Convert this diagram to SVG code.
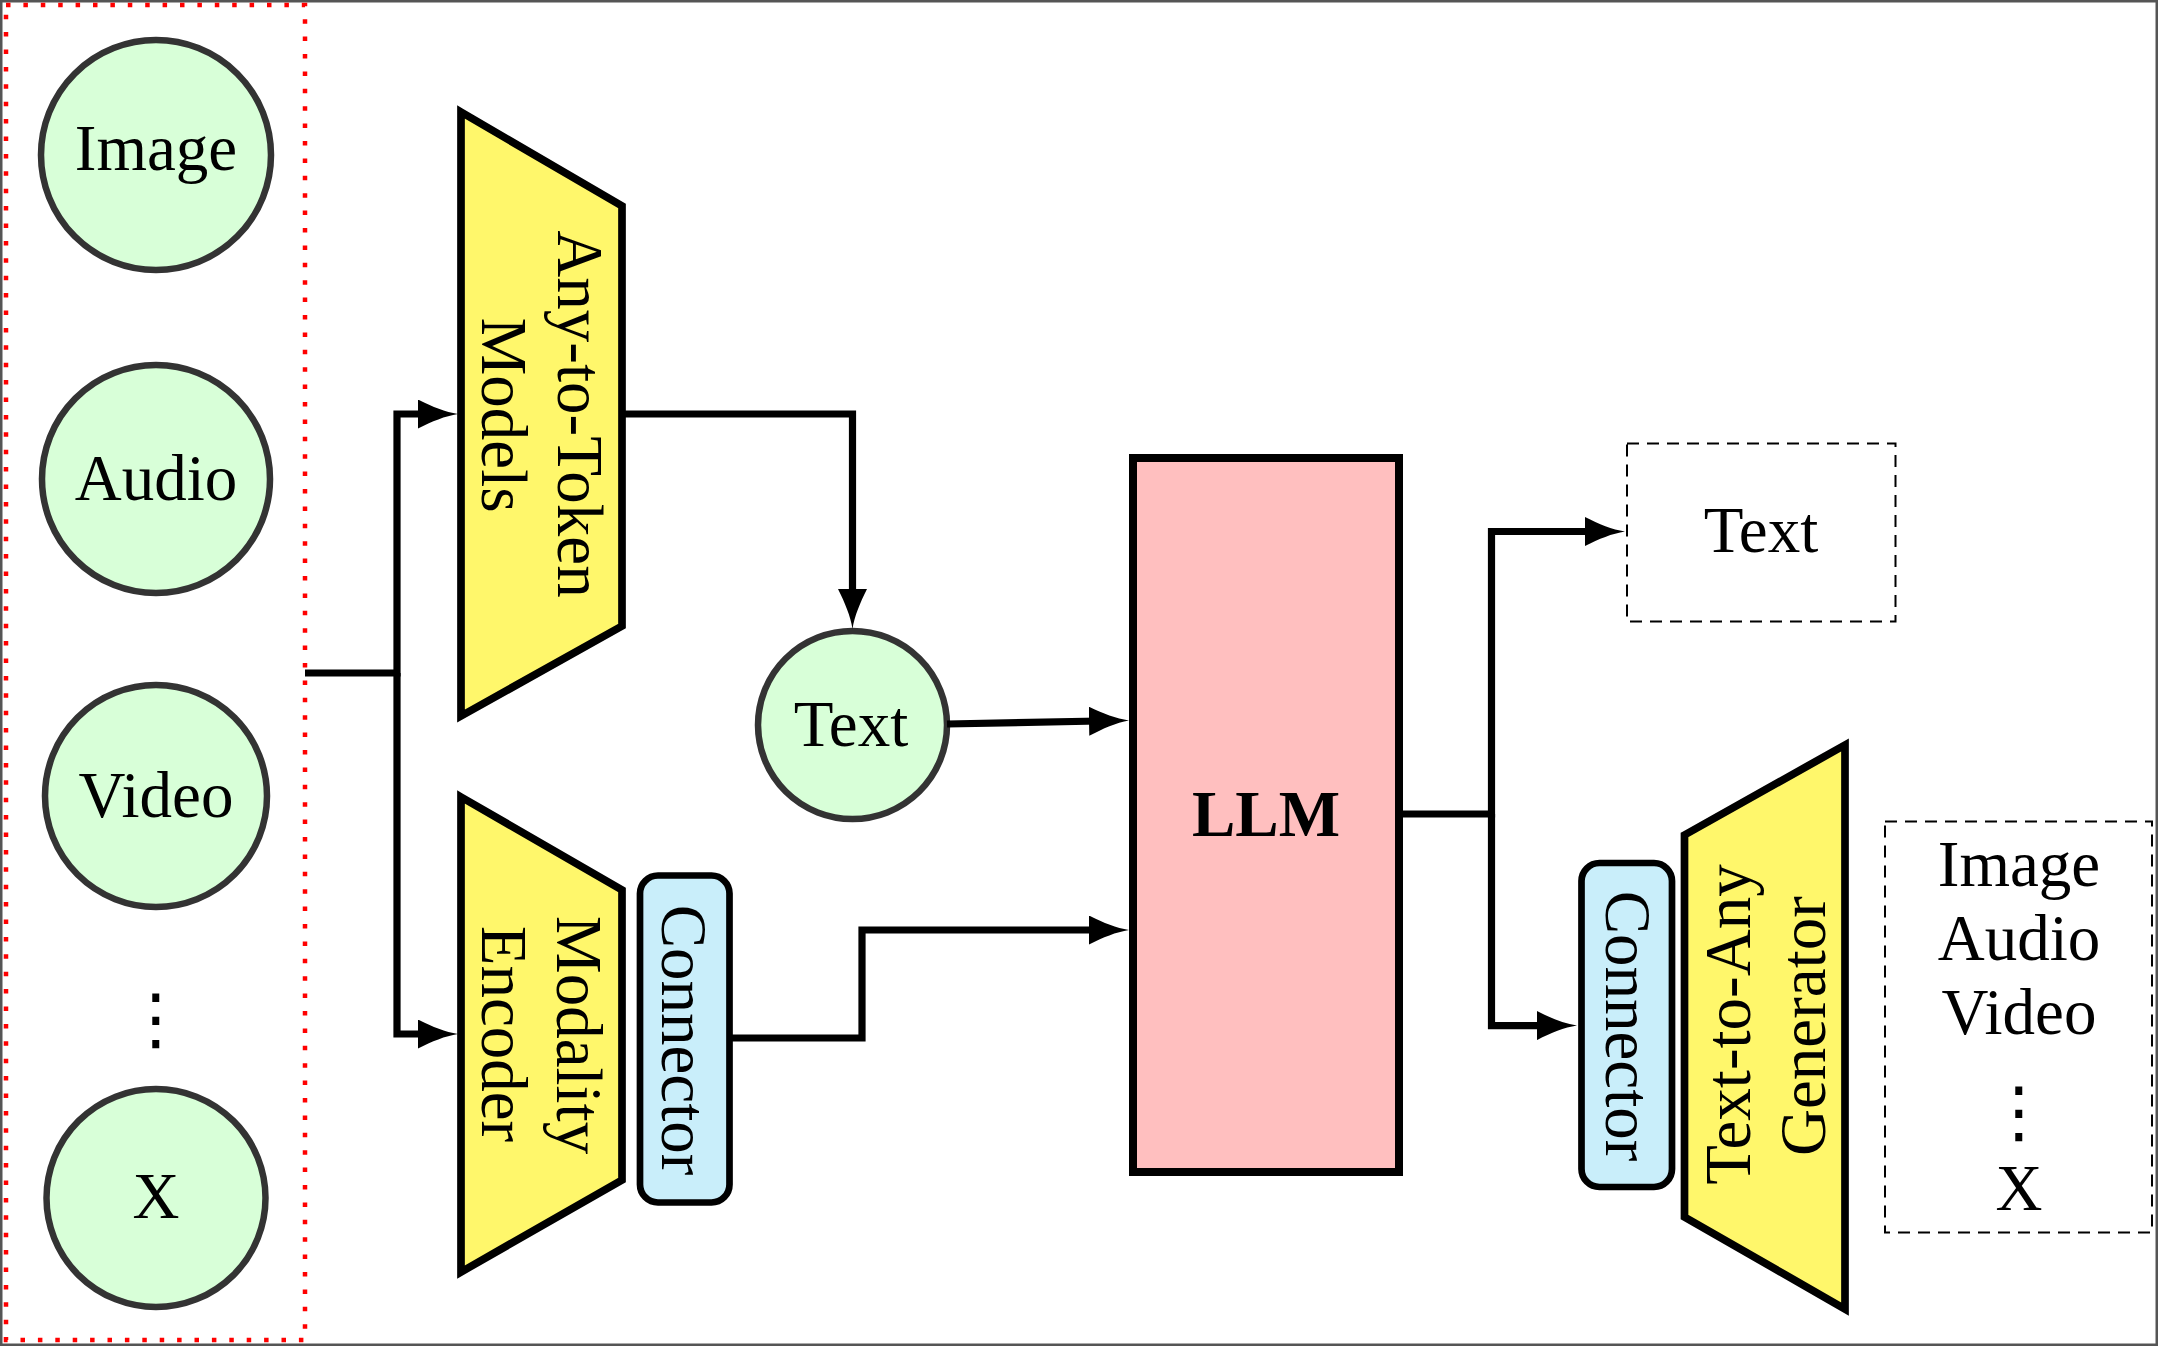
<svg xmlns="http://www.w3.org/2000/svg" width="2158" height="1346" viewBox="0 0 2158 1346">
<defs>
<marker id="arr" markerUnits="userSpaceOnUse" viewBox="0 0 40 29" markerWidth="40" markerHeight="29" refX="10" refY="14.5" orient="auto">
<path d="M0,0 C14,7 27,12.5 40,14.5 C27,16.5 14,22 0,29 Z" fill="#000"/>
</marker>
<style>
.t{font-family:"Liberation Serif","Times New Roman",serif;font-size:65px;fill:#000;text-anchor:middle}
.b{font-weight:bold}
.d{font-family:"DejaVu Sans",sans-serif;font-size:68px}
.circ{fill:#d8ffd8;stroke:#333;stroke-width:6.5}
.trap{fill:#fff76b;stroke:#000;stroke-width:7.7;stroke-linejoin:miter}
.conn{fill:#c9eefa;stroke:#000;stroke-width:6.7}
.dash{fill:none;stroke:#000;stroke-width:2;stroke-dasharray:12 8}
.wire{fill:none;stroke:#000;stroke-width:7.2;stroke-linejoin:miter}
</style>
</defs>
<rect x="0" y="0" width="2158" height="1346" fill="#fff"/>
<rect x="1.25" y="1.25" width="2155.5" height="1343.5" fill="none" stroke="#555" stroke-width="2.5"/>
<rect id="inputs-box" x="6" y="5" width="299" height="1335" fill="none" stroke="#ff0000" stroke-width="4.5" stroke-dasharray="4.5 12.9"/>

<g id="in-image"><ellipse class="circ" cx="156" cy="155" rx="115" ry="115"/><text class="t" x="156" y="170">Image</text></g>
<g id="in-audio"><ellipse class="circ" cx="156" cy="479" rx="114" ry="114"/><text class="t" x="156" y="500">Audio</text></g>
<g id="in-video"><ellipse class="circ" cx="156" cy="796" rx="111" ry="111"/><text class="t" x="156" y="816.5">Video</text></g>
<g id="in-dots"><text class="t d" x="156" y="1042">⋮</text></g>
<g id="in-x"><ellipse class="circ" cx="156" cy="1198" rx="109.5" ry="109"/><text class="t" x="156" y="1218">X</text></g>

<g id="any-to-token"><polygon class="trap" points="461,112 622,206 622,626 461,716"/>
<text class="t" transform="translate(557.5,414) rotate(90)">Any-to-Token</text>
<text class="t" transform="translate(482,415) rotate(90)">Models</text></g>

<g id="modality-encoder"><polygon class="trap" points="461,797 622,890 622,1180 461,1272"/>
<text class="t" transform="translate(557,1035) rotate(90)">Modality</text>
<text class="t" transform="translate(482,1034) rotate(90)">Encoder</text></g>

<g id="connector-in"><rect class="conn" x="640" y="875.5" width="89.5" height="327" rx="18"/>
<text class="t" transform="translate(662,1040) rotate(90)">Connector</text></g>

<g id="text-token"><ellipse class="circ" cx="852.5" cy="725" rx="94.5" ry="94"/><text class="t" x="851" y="746">Text</text></g>

<g id="llm"><rect x="1133" y="458" width="266" height="714" fill="#ffbfbf" stroke="#000" stroke-width="8"/>
<text class="t b" x="1266" y="836">LLM</text></g>

<g id="text-out"><rect class="dash" x="1627" y="443.5" width="268.5" height="178"/><text class="t" x="1761" y="552">Text</text></g>

<g id="connector-out"><rect class="conn" x="1581.5" y="863" width="90.5" height="324" rx="18"/>
<text class="t" transform="translate(1606,1026) rotate(90)">Connector</text></g>

<g id="text-to-any"><polygon class="trap" points="1684.5,835 1845,745 1845,1309 1684.5,1217"/>
<text class="t" transform="translate(1749.5,1024.5) rotate(-90)">Text-to-Any</text>
<text class="t" transform="translate(1825,1026) rotate(-90)">Generator</text></g>

<g id="outputs"><rect class="dash" x="1885" y="821.5" width="267" height="411"/>
<text class="t" x="2019" y="885.7">Image</text>
<text class="t" x="2019" y="960">Audio</text>
<text class="t" x="2019" y="1033.5">Video</text>
<text class="t d" x="2019" y="1135">⋮</text>
<text class="t" x="2019" y="1209.6">X</text></g>

<g id="connectors">
<path class="wire" d="M305,673 H397 V414 H428" marker-end="url(#arr)"/>
<path class="wire" d="M397,673 V1034 H428" marker-end="url(#arr)"/>
<path class="wire" d="M622,414 H852.5 V599" marker-end="url(#arr)"/>
<path class="wire" d="M947,724 L1099,721" marker-end="url(#arr)"/>
<path class="wire" d="M729.5,1038 H862 V930 H1099" marker-end="url(#arr)"/>
<path class="wire" d="M1399,814 H1491.5 V531.5 H1595" marker-end="url(#arr)"/>
<path class="wire" d="M1491.5,814 V1025.6 H1547" marker-end="url(#arr)"/>
</g>
</svg>
